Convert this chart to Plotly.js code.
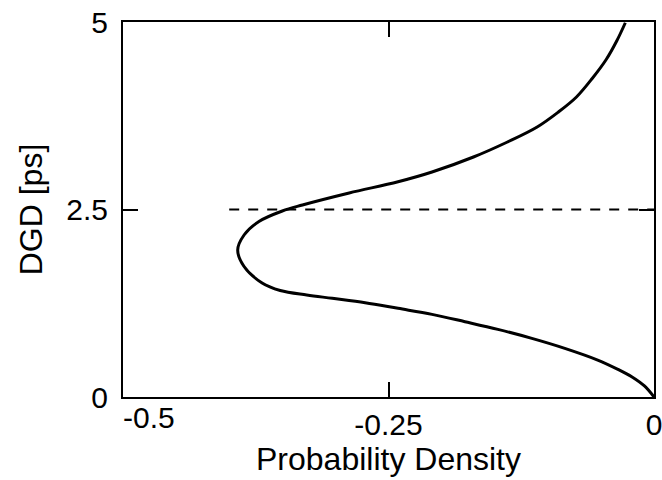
<!DOCTYPE html>
<html>
<head>
<meta charset="utf-8">
<script src="https://cdn.plot.ly/plotly-3.0.1.min.js"></script>
<style>html,body{margin:0;padding:0;background:#fff;}#chart{width:662px;height:480px;}</style>
</head>
<body>
<div id="chart"></div>
<script>
// DGD values [ps] (vertical axis)
var dgd = [0, 0.147, 0.271, 0.369, 0.493, 0.649, 0.782, 0.902, 1.004, 1.102, 1.182, 1.258, 1.316, 1.360, 1.420, 1.52, 1.74, 1.96, 2.16, 2.34, 2.48, 2.56, 2.72, 2.87, 3.00, 3.20, 3.40, 3.60, 3.80, 4.00, 4.25, 4.50, 4.75, 4.99];
// Probability density (plotted negative, horizontal axis)
var density = [0, -0.009, -0.021, -0.034, -0.053, -0.084, -0.115, -0.147, -0.178, -0.209, -0.241, -0.272, -0.303, -0.327, -0.352, -0.369, -0.386, -0.392, -0.386, -0.372, -0.350, -0.331, -0.287, -0.241, -0.209, -0.170, -0.138, -0.110, -0.090, -0.073, -0.058, -0.045, -0.035, -0.027];
// Reference line (mean DGD)
var refX = [-0.40, 0];
var refY = [2.5, 2.5];
// Tick labels
var xTickVals = [-0.5, -0.25, 0];
var xTickText = ['', '-0.25', '0'];
var xEdgeTickVals = [-0.5];
var xEdgeTickText = ['-0.5'];
var yTickVals = [0, 2.5, 5];
var yTickText = ['0', '2.5', '5'];

var font = {family: 'Liberation Sans, Arial, Helvetica, sans-serif', color: '#000'};
var FS = 30;
var TFS = 32;

var traces = [
  {x: density, y: dgd, mode: 'lines', line: {color: '#000', width: 3, shape: 'spline', smoothing: 1}, hoverinfo: 'none'},
  {x: refX, y: refY, xaxis: 'x2', mode: 'lines', line: {color: '#000', width: 2, dash: '10px,9px'}, hoverinfo: 'none'}
];

var axisCommon = {
  showgrid: false, zeroline: false, showline: true, linecolor: '#000', linewidth: 2,
  mirror: 'ticks', ticks: 'inside', ticklen: 15, tickwidth: 2, tickcolor: '#000',
  ticklabeloverflow: 'allow'
};

var layout = {
  width: 662, height: 480,
  margin: {l: 123, r: 8, t: 22, b: 83},
  paper_bgcolor: '#fff', plot_bgcolor: '#fff',
  showlegend: false,
  font: Object.assign({size: FS}, font),
  xaxis: Object.assign({}, axisCommon, {
    range: [-0.5, 0], tickvals: xTickVals, ticktext: xTickText,
    tickfont: Object.assign({size: FS}, font),
    title: {text: 'Probability Density', font: Object.assign({size: TFS}, font), standoff: 6}
  }),
  xaxis2: {
    overlaying: 'x', side: 'bottom', anchor: 'y', range: [-0.5, 0],
    showgrid: false, zeroline: false, showline: false, ticks: '',
    tickvals: xEdgeTickVals, ticktext: xEdgeTickText,
    ticklabelposition: 'outside right', ticklabeloverflow: 'allow',
    tickfont: Object.assign({size: FS}, font)
  },
  yaxis: Object.assign({}, axisCommon, {
    range: [0, 5], tickvals: yTickVals, ticktext: yTickText,
    ticklabelstandoff: 7,
    tickfont: Object.assign({size: FS}, font),
    title: {text: 'DGD [ps]', font: Object.assign({size: TFS}, font), standoff: 14}
  })
};

Plotly.newPlot('chart', traces, layout, {staticPlot: true, displayModeBar: false});
</script>
</body>
</html>
